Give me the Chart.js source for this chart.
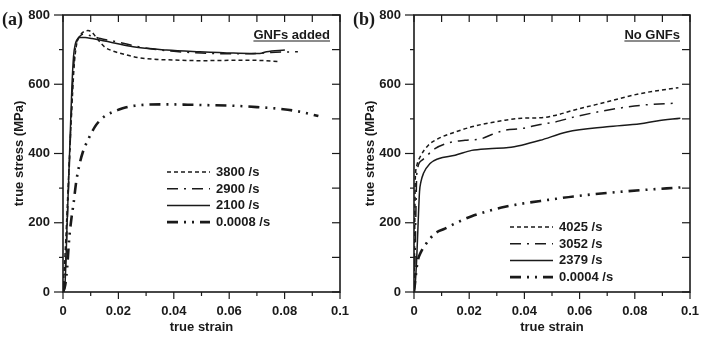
<!DOCTYPE html>
<html>
<head>
<meta charset="utf-8">
<script src="https://cdn.jsdelivr.net/npm/chart.js@4.4.0/dist/chart.umd.min.js"></script>
<style>
  body { margin: 0; background: #fff; }
  #wrap { position: relative; width: 703px; height: 339px; }
  .panel { position: absolute; top: 0; height: 339px; }
</style>
</head>
<body>
<div id="wrap">
  <div class="panel" style="left:0;width:351px"><canvas id="chartA" width="351" height="339"></canvas></div>
  <div class="panel" style="left:351px;width:352px"><canvas id="chartB" width="352" height="339"></canvas></div>
</div>
<script>
// ---- panel (a): GNFs added ----
var strain3800 = [0, 0.001, 0.002, 0.003, 0.004, 0.0048, 0.006, 0.0075, 0.009, 0.0105, 0.012, 0.015, 0.018, 0.021, 0.027, 0.033, 0.04, 0.05, 0.06, 0.07, 0.0785];
var stress3800 = [0, 150, 330, 500, 650, 710, 738, 752, 755, 750, 735, 708, 696, 689, 677, 672, 670, 668, 669, 669, 665];

var strain2900 = [0, 0.0008, 0.0018, 0.0028, 0.0036, 0.0044, 0.0052, 0.006, 0.0075, 0.009, 0.011, 0.0135, 0.018, 0.025, 0.032, 0.04, 0.05, 0.06, 0.068, 0.075, 0.0848];
var stress2900 = [0, 60, 260, 470, 620, 700, 728, 738, 745, 742, 738, 732, 725, 712, 702, 695, 690, 688, 688, 692, 694];

var strain2100 = [0, 0.0006, 0.0015, 0.0025, 0.0032, 0.0038, 0.0045, 0.0052, 0.006, 0.008, 0.0105, 0.0133, 0.018, 0.0253, 0.0374, 0.0494, 0.0615, 0.0675, 0.071, 0.0735, 0.0801];
var stress2100 = [0, 10, 200, 430, 590, 680, 718, 730, 735, 735, 732, 728, 720, 708, 699, 694, 690, 689, 689, 694, 699];

var strain0008 = [0, 0.0008, 0.0015, 0.0022, 0.003, 0.0038, 0.0048, 0.006, 0.0072, 0.009, 0.0115, 0.0135, 0.0157, 0.018, 0.0199, 0.0225, 0.0259, 0.03, 0.0368, 0.045, 0.05, 0.0614, 0.07, 0.0795, 0.086, 0.0922];
var stress0008 = [0, 20, 70, 150, 210, 255, 320, 370, 405, 439, 477, 497, 511, 520, 526, 533, 538, 541, 542, 541, 540, 538, 534, 528, 520, 508];

// ---- panel (b): No GNFs ----
var strain4025 = [0, 0.0002, 0.0004, 0.0006, 0.001, 0.0022, 0.0052, 0.0088, 0.0149, 0.0209, 0.027, 0.033, 0.039, 0.0457, 0.0511, 0.0578, 0.0699, 0.082, 0.0929, 0.0958];
var stress4025 = [0, 120, 300, 345, 365, 390, 424, 443, 462, 477, 488, 496, 502, 503, 510, 525, 549, 573, 587, 590];

var strain3052 = [0, 0.0004, 0.0008, 0.001, 0.0028, 0.0076, 0.0137, 0.0185, 0.0246, 0.0282, 0.033, 0.039, 0.0457, 0.0511, 0.0578, 0.0699, 0.082, 0.0959];
var stress3052 = [0, 100, 280, 340, 380, 414, 433, 438, 443, 455, 467, 472, 484, 491, 505, 525, 539, 546];

var strain2379 = [0, 0.0005, 0.001, 0.0015, 0.002, 0.0025, 0.0034, 0.0058, 0.0088, 0.0149, 0.0209, 0.027, 0.0342, 0.039, 0.0457, 0.0554, 0.0699, 0.082, 0.088, 0.0965];
var stress2379 = [0, 30, 100, 200, 290, 318, 342, 371, 385, 395, 409, 414, 417, 424, 438, 462, 477, 486, 494, 502];

var strain0004 = [0, 0.0005, 0.001, 0.0015, 0.0025, 0.004, 0.0076, 0.0112, 0.0149, 0.0209, 0.027, 0.033, 0.039, 0.0487, 0.0578, 0.0699, 0.082, 0.0965];
var stress0004 = [0, 35, 72, 95, 115, 135, 169, 183, 198, 219, 234, 246, 255, 266, 276, 286, 294, 302];

var labelsA = ["3800 /s", "2900 /s", "2100 /s", "0.0008 /s"];
var labelsB = ["4025 /s", "3052 /s", "2379 /s", "0.0004 /s"];

var FONT = "'Liberation Sans', Arial, sans-serif";
var INK = "#1a1a1a";

function pts(xs, ys) {
  return xs.map(function (v, i) { return { x: v, y: ys[i] }; });
}

// line styles shared by both panels (same order)
var styles = [
  { borderDash: [4, 3], borderWidth: 1.5 },
  { borderDash: [11, 6, 2, 6], borderWidth: 1.5 },
  { borderDash: [], borderWidth: 1.5 },
  { borderDash: [11, 6, 2, 6, 2, 6], borderWidth: 2.6 }
];

function makeSets(labels, xs, ys) {
  return labels.map(function (lab, i) {
    return {
      label: lab,
      data: pts(xs[i], ys[i]),
      borderColor: INK,
      borderWidth: styles[i].borderWidth,
      borderDash: styles[i].borderDash,
      pointRadius: 0,
      cubicInterpolationMode: "monotone",
      fill: false
    };
  });
}

// frame, mirrored ticks, legend and notes
var decor = {
  id: "decor",
  afterDraw: function (chart, args, o) {
    var ctx = chart.ctx, a = chart.chartArea;
    var x = chart.scales.x, y = chart.scales.y;
    ctx.save();
    ctx.strokeStyle = INK;
    ctx.lineWidth = 1.6;
    ctx.setLineDash([]);
    ctx.strokeRect(a.left, a.top, a.right - a.left, a.bottom - a.top);

    function seg(x1, y1, x2, y2) {
      ctx.beginPath(); ctx.moveTo(x1, y1); ctx.lineTo(x2, y2); ctx.stroke();
    }
    ctx.lineWidth = 1.2;
    for (var i = 0; i <= 10; i++) {
      var px = x.getPixelForValue(x.min + (x.max - x.min) * i / 10);
      seg(px, a.bottom, px, a.bottom + (i % 2 === 0 ? 7 : 4));
      seg(px, a.top, px, a.top + 7);
    }
    for (var j = 0; j <= 8; j++) {
      var py = y.getPixelForValue(y.min + (y.max - y.min) * j / 8);
      seg(a.left, py, a.left - (j % 2 === 0 ? 9 : 4), py);
      seg(a.right, py, a.right - 8, py);
    }

    // legend
    ctx.font = "bold 13px " + FONT;
    ctx.fillStyle = INK;
    ctx.textBaseline = "middle";
    ctx.textAlign = "left";
    chart.data.datasets.forEach(function (ds, k) {
      var ly = a.top + o.legendTop + k * 16.7;
      var lx = a.left + o.legendLeft;
      ctx.lineWidth = ds.borderWidth;
      ctx.setLineDash(ds.borderDash);
      seg(lx, ly, lx + 43, ly);
      ctx.setLineDash([]);
      ctx.fillText(ds.label, lx + 49, ly + 0.5);
    });

    // note, underlined
    ctx.textAlign = "right";
    ctx.fillText(o.note, a.right - 10, a.top + 20);
    var w = ctx.measureText(o.note).width;
    ctx.lineWidth = 1.2;
    seg(a.right - 10 - w, a.top + 26, a.right - 10, a.top + 26);

    // panel tag
    ctx.textAlign = "left";
    ctx.font = "bold 18px 'Liberation Serif', 'Times New Roman', serif";
    ctx.fillText(o.tag, 2, 20);
    ctx.restore();
  }
};

function makeChart(id, sets, padRight, note, tag, legendLeft, legendTop) {
  return new Chart(document.getElementById(id), {
    type: "line",
    data: { datasets: sets },
    plugins: [decor],
    options: {
      responsive: false,
      animation: false,
      layout: { padding: { top: 15, right: padRight, left: 0, bottom: 0 } },
      scales: {
        x: {
          type: "linear",
          min: 0, max: 0.1,
          afterFit: function (s) { s.height = 47; s.paddingLeft = 0; s.paddingRight = 0; },
          grid: { display: false, drawTicks: false },
          border: { display: false },
          ticks: {
            stepSize: 0.02,
            padding: 12,
            color: INK,
            font: { family: FONT, size: 13, weight: "bold" },
            callback: function (v) { return String(Number(v.toFixed(2))); }
          },
          title: {
            display: true, text: "true strain", color: INK,
            padding: { top: 0, bottom: 4 },
            font: { family: FONT, size: 13, weight: "bold" }
          }
        },
        y: {
          min: 0, max: 800,
          afterFit: function (s) { s.width = 63; s.paddingTop = 0; s.paddingBottom = 0; },
          grid: { display: false, drawTicks: false },
          border: { display: false },
          ticks: {
            stepSize: 200,
            padding: 13,
            color: INK,
            font: { family: FONT, size: 13, weight: "bold" }
          },
          title: {
            display: true, text: "true stress (MPa)", color: INK,
            padding: { top: 12, bottom: 0 },
            font: { family: FONT, size: 13, weight: "bold" }
          }
        }
      },
      plugins: {
        legend: { display: false },
        tooltip: { enabled: false },
        decor: { note: note, tag: tag, legendLeft: legendLeft, legendTop: legendTop }
      }
    }
  });
}

makeChart("chartA",
  makeSets(labelsA, [strain3800, strain2900, strain2100, strain0008], [stress3800, stress2900, stress2100, stress0008]),
  11, "GNFs added", "(a)", 104, 157);

makeChart("chartB",
  makeSets(labelsB, [strain4025, strain3052, strain2379, strain0004], [stress4025, stress3052, stress2379, stress0004]),
  13, "No GNFs", "(b)", 96, 212);
</script>
</body>
</html>
